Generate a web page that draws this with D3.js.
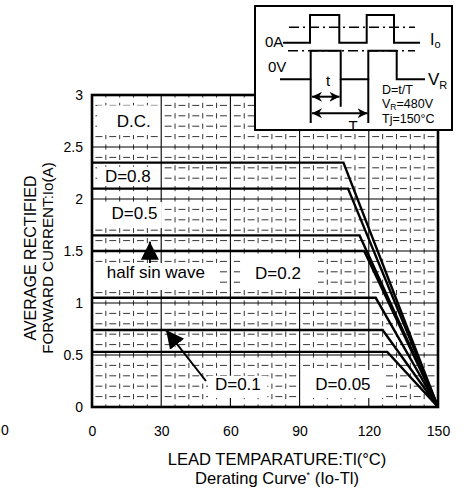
<!DOCTYPE html>
<html>
<head>
<meta charset="utf-8">
<script src="https://cdn.jsdelivr.net/npm/d3@7"></script>
<style>
  body { margin: 0; background: #fff; }
  text { font-family: "Liberation Sans", Arial, Helvetica, sans-serif; fill: #000; }
</style>
</head>
<body>
<div id="chart"></div>
<script>
// Section 1: data
var curveNames = ["D.C.", "D=0.8", "D=0.5", "half sin wave", "D=0.2", "D=0.1", "D=0.05"];
var flatLevels = [2.35, 2.1, 1.65, 1.5, 1.05, 0.74, 0.53];   // Io (A) on the flat part
var kneeTemps = [109, 111, 116, 118, 123, 126, 128];          // Tl where derating starts
var zeroTemp = 150;                                           // all curves end at 0 A here
var xTickValues = [0, 30, 60, 90, 120, 150];
var yTickValues = [0, 0.5, 1, 1.5, 2, 2.5, 3];

// Section 2: canvas
var width = 467, height = 503;
var svg = d3.select("#chart").append("svg")
  .attr("width", width)
  .attr("height", height);

var x = d3.scaleLinear().domain([0, 150]).range([92, 438]);
var y = d3.scaleLinear().domain([0, 3]).range([407, 95]);

// markers for the arrows
var defs = svg.append("defs");
defs.append("marker")
  .attr("id", "bigHead")
  .attr("markerUnits", "userSpaceOnUse")
  .attr("markerWidth", 20).attr("markerHeight", 20)
  .attr("viewBox", "0 -10 20 20")
  .attr("refX", 18).attr("refY", 0)
  .attr("orient", "auto")
  .append("path").attr("d", "M0,-9L18,0L0,9Z").attr("fill", "#000");
defs.append("marker")
  .attr("id", "smallHead")
  .attr("markerUnits", "userSpaceOnUse")
  .attr("markerWidth", 12).attr("markerHeight", 12)
  .attr("viewBox", "0 -6 12 12")
  .attr("refX", 10).attr("refY", 0)
  .attr("orient", "auto-start-reverse")
  .append("path").attr("d", "M0,-5L10,0L0,5L3,0Z").attr("fill", "#000");
defs.append("clipPath").attr("id", "insetClip")
  .append("rect").attr("x", 255).attr("y", 6).attr("width", 197).attr("height", 124);

// Section 3: grid
var minorT = d3.range(6, 150, 6).filter(function(t) { return t % 30 !== 0; });
var minorI = d3.range(1, 30).map(function(i) { return i / 10; })
  .filter(function(v) { return Math.round(v * 10) % 5 !== 0; });
var cellW = x(6) - x(0);
var cellH = y(0) - y(0.1);

var grid = svg.append("g").attr("class", "grid");
grid.selectAll(".hMinor").data(minorI).enter().append("line")
  .attr("x1", x(0)).attr("x2", x(150))
  .attr("y1", function(d) { return y(d); }).attr("y2", function(d) { return y(d); })
  .attr("stroke", "#000").attr("stroke-width", 0.8)
  .attr("stroke-dasharray", (cellW * 0.5) + "," + (cellW * 0.5))
  .attr("stroke-dashoffset", -cellW * 0.25);
grid.selectAll(".vMinor").data(minorT).enter().append("line")
  .attr("x1", function(d) { return x(d); }).attr("x2", function(d) { return x(d); })
  .attr("y1", y(0)).attr("y2", y(3))
  .attr("stroke", "#000").attr("stroke-width", 0.8)
  .attr("stroke-dasharray", (cellH * 0.5) + "," + (cellH * 0.5))
  .attr("stroke-dashoffset", cellH * 0.25);
grid.selectAll(".vMajor").data([30, 60, 90, 120]).enter().append("line")
  .attr("x1", function(d) { return x(d); }).attr("x2", function(d) { return x(d); })
  .attr("y1", y(0)).attr("y2", y(3))
  .attr("stroke", "#000").attr("stroke-width", 1.1);
grid.selectAll(".hMajor").data([0.5, 1, 1.5, 2, 2.5]).enter().append("line")
  .attr("x1", x(0)).attr("x2", x(150))
  .attr("y1", function(d) { return y(d); }).attr("y2", function(d) { return y(d); })
  .attr("stroke", "#000").attr("stroke-width", 1.1);

// Section 4: label boxes (white patches over the grid), in data units
var labelLayout = {
  "D.C.":          { tx: 10.7, ty: 2.69,  box: [2.2, 29.5, 2.615, 2.90] },
  "D=0.8":         { tx: 5.6,  ty: 2.16,  box: [2.2, 29.5, 2.13, 2.31] },
  "D=0.5":         { tx: 8.5,  ty: 1.808, box: [0.8, 30.3, 1.72, 1.97] },
  "half sin wave": { tx: 6.4,  ty: 1.24,  box: [0.8, 54.6, 1.125, 1.385] },
  "D=0.2":         { tx: 70.7, ty: 1.231, box: [64.2, 98, 1.14, 1.43] },
  "D=0.1":         { tx: 53.3, ty: 0.163, box: [50.3, 76, 0.087, 0.30] },
  "D=0.05":        { tx: 96.8, ty: 0.163, box: [91.5, 127, 0.087, 0.356] }
};
svg.append("g").selectAll("rect").data(curveNames).enter().append("rect")
  .attr("x", function(d) { return x(labelLayout[d].box[0]); })
  .attr("width", function(d) { return x(labelLayout[d].box[1]) - x(labelLayout[d].box[0]); })
  .attr("y", function(d) { return y(labelLayout[d].box[3]); })
  .attr("height", function(d) { return y(labelLayout[d].box[2]) - y(labelLayout[d].box[3]); })
  .attr("fill", "#fff");

// Section 5: derating curves
var curveLine = d3.line()
  .x(function(p) { return x(p[0]); })
  .y(function(p) { return y(p[1]); });
svg.append("g").selectAll("path").data(curveNames).enter().append("path")
  .attr("d", function(d, i) {
    return curveLine([[0, flatLevels[i]], [kneeTemps[i], flatLevels[i]], [zeroTemp, 0]]);
  })
  .attr("fill", "none").attr("stroke", "#000").attr("stroke-width", 2.4);

// frame
svg.append("rect")
  .attr("x", x(0)).attr("y", y(3))
  .attr("width", x(150) - x(0)).attr("height", y(0) - y(3))
  .attr("fill", "none").attr("stroke", "#000").attr("stroke-width", 2.6);

// curve labels
svg.append("g").selectAll("text").data(curveNames).enter().append("text")
  .attr("x", function(d) { return x(labelLayout[d].tx); })
  .attr("y", function(d) { return y(labelLayout[d].ty); })
  .attr("font-size", 17)
  .text(function(d) { return d; });

// pointer arrows
svg.append("line")
  .attr("x1", x(25.1)).attr("y1", y(1.385))
  .attr("x2", x(25.1)).attr("y2", y(1.59))
  .attr("stroke", "#000").attr("stroke-width", 2)
  .attr("marker-end", "url(#bigHead)");
svg.append("line")
  .attr("x1", x(49.4)).attr("y1", y(0.25))
  .attr("x2", x(32.1)).attr("y2", y(0.74))
  .attr("stroke", "#000").attr("stroke-width", 2)
  .attr("marker-end", "url(#bigHead)");

// Section 6: axes
var xAxis = d3.axisBottom(x).tickValues(xTickValues).tickSize(0).tickPadding(19);
svg.append("g").attr("transform", "translate(0," + y(0) + ")").call(xAxis)
  .call(function(g) { g.select(".domain").remove(); })
  .selectAll("text").attr("font-size", 14).attr("font-family", null);

var yAxis = d3.axisLeft(y).tickValues(yTickValues).tickSize(0).tickPadding(9)
  .tickFormat(d3.format("~g"));
svg.append("g").attr("transform", "translate(" + x(0) + ",0)").call(yAxis)
  .call(function(g) { g.select(".domain").remove(); })
  .selectAll("text").attr("font-size", 14).attr("font-family", null);

// stray zero at the far left
svg.append("text").attr("x", 5).attr("y", 435).attr("text-anchor", "middle")
  .attr("font-size", 14).text("0");

// axis titles
var yTitle = svg.append("g").attr("transform", "translate(0,258) rotate(-90)");
yTitle.append("text").attr("x", 0).attr("y", 36).attr("text-anchor", "middle")
  .attr("font-size", 16).text("AVERAGE RECTIFIED");
yTitle.append("text").attr("x", 0).attr("y", 53).attr("text-anchor", "middle")
  .attr("font-size", 15.2).text("FORWARD CURRENT:Io(A)");

svg.append("text").attr("x", 277).attr("y", 465).attr("text-anchor", "middle")
  .attr("font-size", 16.6).text("LEAD TEMPARATURE:Tl(\u00b0C)");
var sub = svg.append("text").attr("x", 277).attr("y", 484).attr("text-anchor", "middle")
  .attr("font-size", 16.6);
sub.append("tspan").text("Derating Curve");
sub.append("tspan").attr("font-size", 9).attr("dy", -6).text("*");
sub.append("tspan").attr("dy", 6).text(" (Io-Tl)");

// Section 7: waveform inset
var inset = svg.append("g");
inset.append("rect")
  .attr("x", 255).attr("y", 6).attr("width", 197).attr("height", 124)
  .attr("fill", "#fff").attr("stroke", "#000").attr("stroke-width", 2);

var wave = inset.append("g").attr("fill", "none").attr("stroke", "#000").attr("stroke-width", 2);
// current waveform
wave.append("path")
  .attr("d", "M283,42.7H310V15H339.3V42.7H366.7V15H394V42.7H420");
// voltage waveform
wave.append("path")
  .attr("d", "M280,79.3H310.7V50.7H340.7V79.3H368.3V50.7H396.7V79.3H425");
// period markers
wave.append("path")
  .attr("d", "M310.7,79.3V123M340.7,79.3V106.7M368.3,79.3V123");
// dash-dot reference levels
wave.append("path").attr("stroke-width", 1.5)
  .attr("stroke-dasharray", "10,4,2,4")
  .attr("d", "M289,27.3H415M288,50.7H415");
// t and T arrows
wave.append("line").attr("x1", 312).attr("y1", 96.7).attr("x2", 339.5).attr("y2", 96.7)
  .attr("marker-start", "url(#smallHead)").attr("marker-end", "url(#smallHead)");
wave.append("line").attr("x1", 312).attr("y1", 113.3).attr("x2", 367.5).attr("y2", 113.3)
  .attr("marker-start", "url(#smallHead)").attr("marker-end", "url(#smallHead)");

inset.append("text").attr("x", 265).attr("y", 46.7).attr("font-size", 15).text("0A");
inset.append("text").attr("x", 268).attr("y", 71.7).attr("font-size", 15).text("0V");
inset.append("text").attr("x", 328).attr("y", 86).attr("text-anchor", "middle")
  .attr("font-size", 15).text("t");
inset.append("text").attr("x", 353).attr("y", 130.5).attr("text-anchor", "middle")
  .attr("clip-path", "url(#insetClip)").attr("font-size", 15).text("T");

var io = inset.append("text").attr("x", 430).attr("y", 45).attr("font-size", 16);
io.append("tspan").text("I");
io.append("tspan").attr("font-size", 11).attr("dy", 3).text("o");
var vr = inset.append("text").attr("x", 428).attr("y", 85).attr("font-size", 17);
vr.append("tspan").text("V");
vr.append("tspan").attr("font-size", 11).attr("dy", 4).text("R");

inset.append("text").attr("x", 382).attr("y", 93.5).attr("font-size", 12.5).text("D=t/T");
var vline = inset.append("text").attr("x", 382).attr("y", 108).attr("font-size", 12.5);
vline.append("tspan").text("V");
vline.append("tspan").attr("font-size", 8.5).attr("dy", 1.5).text("R");
vline.append("tspan").attr("dy", -1.5).text("=480V");
inset.append("text").attr("x", 382).attr("y", 122.5).attr("font-size", 12.5).text("Tj=150\u00b0C");
</script>
</body>
</html>
